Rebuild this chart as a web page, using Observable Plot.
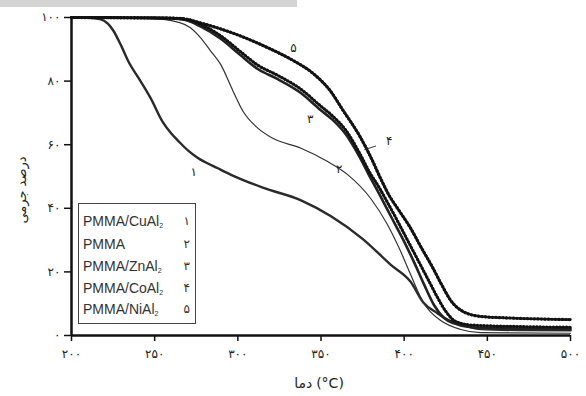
<!DOCTYPE html>
<html>
<head>
<meta charset="utf-8">
<script src="https://cdn.jsdelivr.net/npm/d3@7"></script>
<script src="https://cdn.jsdelivr.net/npm/@observablehq/plot@0.6"></script>
<style>
  body { margin: 0; background: #fff; }
  #wrap { position: relative; width: 586px; height: 396px; overflow: hidden; font-family: "DejaVu Sans", sans-serif; }
  #bar { position: absolute; left: 0; top: 0; width: 297px; height: 7px; background: #d4d4d4; }
  #ytitle { position: absolute; left: 21px; top: 190px; transform: translate(-50%, -50%) rotate(-90deg); font-size: 13px; color: #222; white-space: nowrap; }
  #xtitle { position: absolute; left: 319px; top: 383px; transform: translate(-50%, -50%); font-size: 14px; color: #222; white-space: nowrap; display: flex; gap: 4px; direction: ltr; }
  #legend { position: absolute; left: 78px; top: 203px; width: 118px; height: 121px; border: 1px solid #444; background: #fff; box-sizing: border-box; }
  .row { position: absolute; left: 4px; right: 5px; height: 20px; line-height: 20px; font-family: "Liberation Sans", Arial, sans-serif; font-size: 14px; color: #333; }
  .row .num { position: absolute; right: 0; top: 0; font-family: "DejaVu Sans", sans-serif; font-size: 12px; }
  .row sub { font-size: 7px; vertical-align: -2px; }
</style>
</head>
<body>
<div id="wrap">
  <div id="bar"></div>
  <div id="chart"></div>
  <div id="ytitle">درصد جرمی</div>
  <div id="xtitle"><span>دما</span><span>(°C)</span></div>
  <div id="legend"></div>
</div>
<script>
// ---- data ----
const xTicks = [200, 250, 300, 350, 400, 450, 500];
const yTicks = [0, 20, 40, 60, 80, 100];

const c1T = [200, 210, 217, 222, 225, 230, 234, 241.5, 247.5, 255, 260, 264, 270, 276, 288, 297, 315, 338, 356, 375, 392, 404, 411.5, 420, 426, 436, 446, 470, 500];
const c1M = [100, 99.9, 99.5, 98, 96, 91, 86.4, 80, 74.7, 67, 63.5, 61.3, 58.2, 55.8, 52.6, 50.3, 46.5, 42.5, 37.5, 30.4, 22.2, 16.8, 10.4, 7, 5, 3.2, 2, 1.7, 1.6];

const c2T = [200, 247, 265, 271.5, 277.5, 283.5, 289.5, 297, 303, 312, 321, 338, 354, 366, 380, 390, 398, 404, 411.5, 422, 434, 446, 500];
const c2M = [100, 99.7, 98.4, 96.8, 93.7, 89.6, 85.4, 77, 70.6, 65.2, 62, 58.9, 54.7, 50.6, 43, 34.8, 26.3, 19, 10.4, 4.7, 1.9, 0.9, 0.7];

const c3T = [200, 260, 268.5, 277.5, 289.5, 301.5, 312, 324, 337.5, 349.5, 357, 365, 373, 379, 385, 392, 400, 406, 412, 418, 424, 430, 440, 470, 500];
const c3M = [100, 99.7, 99.2, 97.2, 93.4, 88.2, 83.8, 80.6, 76.4, 71, 67.8, 63.2, 56.3, 50.3, 44.5, 37.5, 29.5, 23, 16, 9.5, 5.5, 3.8, 2.6, 2.2, 2];

const c4T = [200, 260, 268.5, 277.5, 289.5, 301.5, 312, 324, 337.5, 349.5, 357, 365, 373, 379, 385, 390, 395, 400, 405, 410, 415, 420, 425, 431, 440, 470, 500];
const c4M = [100, 99.8, 99.5, 97.9, 94.3, 89.3, 85, 81.8, 77.6, 72.3, 69, 64.5, 57.5, 51.5, 46.5, 41.8, 37, 32, 27, 22, 17, 12, 7.6, 4.4, 3.3, 2.8, 2.6];

const c5T = [200, 250, 265.5, 277.5, 297.5, 318, 333.5, 345.5, 355.5, 363, 373.5, 380, 386, 391, 396, 403, 411, 417, 422, 428, 435.5, 446, 464, 500];
const c5M = [100, 99.9, 99.7, 98.3, 95, 90.5, 86.4, 82.3, 77, 71, 62.5, 56, 49.2, 44, 40, 34.5, 27, 21.5, 16.5, 11, 7.5, 6, 5.5, 5];

const legendNames = ["PMMA/CuAl|2", "PMMA", "PMMA/ZnAl|2", "PMMA/CoAl|2", "PMMA/NiAl|2"];
const legendNums = ["۱", "۲", "۳", "۴", "۵"];

const labelT = [273.5, 361, 343.5, 391, 333.5];
const labelM = [51.5, 52.2, 68, 61.2, 90.5];
const labelText = ["۱", "۲", "۳", "۴", "۵"];
const leader4 = {x1: 376, y1: 58.4, x2: 383, y2: 59.6};

// ---- helpers ----
const fa = (n) => String(n).replace(/\d/g, (c) => "۰۱۲۳۴۵۶۷۸۹"[+c]);
const toRows = (T, M, k) => T.map((t, i) => ({t, m: M[i], k}));

const series = [
  {rows: toRows(c1T, c1M, 1), w: 2.4, c: "#2a2a2a"},
  {rows: toRows(c2T, c2M, 2), w: 1.2, c: "#333"},
  {rows: toRows(c3T, c3M, 3), w: 2.6, c: "#222"},
  {rows: toRows(c4T, c4M, 4), w: 2.2, c: "#333"},
  {rows: toRows(c5T, c5M, 5), w: 2.6, c: "#222"}
];

const labels = labelT.map((t, i) => ({t, m: labelM[i], s: labelText[i]}));

const marks = [
  ...series.map(s => Plot.line(s.rows, {x: "t", y: "m", stroke: s.c, strokeWidth: s.w, curve: "monotone-x"})),
  // beaded texture on the dotted curves
  Plot.line(series[3].rows, {x: "t", y: "m", stroke: "#111", strokeWidth: 3.2, strokeDasharray: "0.1 3.2", strokeLinecap: "round", curve: "monotone-x"}),
  Plot.line(series[4].rows, {x: "t", y: "m", stroke: "#111", strokeWidth: 3.2, strokeDasharray: "0.1 3.4", strokeLinecap: "round", curve: "monotone-x"}),
  Plot.link([leader4], {x1: "x1", y1: "y1", x2: "x2", y2: "y2", stroke: "#333", strokeWidth: 1}),
  Plot.text(labels, {x: "t", y: "m", text: "s", fontSize: 12, fill: "#222", fontFamily: "DejaVu Sans"}),
  Plot.axisX({ticks: xTicks, tickFormat: fa, tickSize: 6, tickPadding: 8, fontSize: 12, label: null, stroke: "#111", strokeWidth: 1.5}),
  Plot.axisY({ticks: yTicks, tickFormat: fa, tickSize: 7, tickPadding: 4, fontSize: 12, label: null, stroke: "#111", strokeWidth: 1.5}),
  Plot.ruleY([0], {stroke: "#111", strokeWidth: 2.5}),
  Plot.ruleX([200], {stroke: "#111", strokeWidth: 2.5})
];

const chart = Plot.plot({
  width: 586,
  height: 396,
  marginLeft: 71,
  marginRight: 16,
  marginTop: 17,
  marginBottom: 61,
  style: {fontFamily: "DejaVu Sans", color: "#222", background: "transparent"},
  x: {domain: [200, 500]},
  y: {domain: [0, 100]},
  marks
});
document.getElementById("chart").appendChild(chart);

// legend
const leg = document.getElementById("legend");
const rowTops = [7, 30, 52, 74, 95];
legendNames.forEach((n, i) => {
  const [base, sub] = n.split("|");
  const d = document.createElement("div");
  d.className = "row";
  d.style.top = rowTops[i] + "px";
  d.innerHTML = base + (sub ? "<sub>" + sub + "</sub>" : "") + '<span class="num">' + legendNums[i] + "</span>";
  leg.appendChild(d);
});
</script>
</body>
</html>
